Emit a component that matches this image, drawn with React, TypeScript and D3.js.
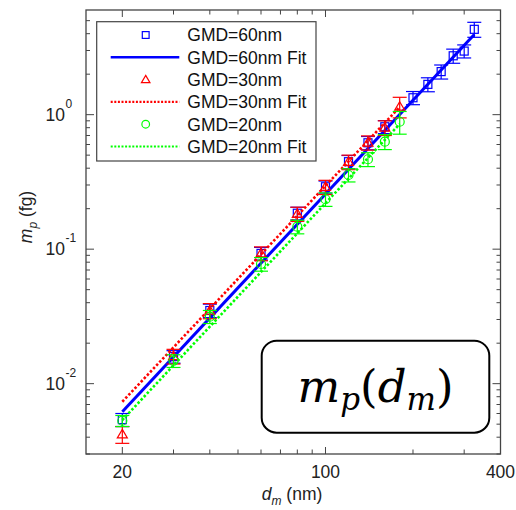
import React from "react";
import * as d3 from "d3";

// measured data, GMD = 60 nm
const dm60 = [20, 30, 40, 60, 80, 100, 120, 140, 160, 200, 225, 250, 275, 300, 325];
const mp60 = [0.0054, 0.0159, 0.035, 0.093, 0.185, 0.291, 0.447, 0.618, 0.813, 1.336, 1.68, 2.09, 2.74, 2.97, 4.31];
const err60 = [0.0006, 0.0017, 0.004, 0.01, 0.02, 0.03, 0.05, 0.07, 0.09, 0.15, 0.2, 0.25, 0.33, 0.33, 0.55];

// GMD = 30 nm
const dm30 = [20, 30, 40, 60, 80, 100, 120, 140, 160, 180];
const mp30 = [0.0042, 0.016, 0.0349, 0.093, 0.183, 0.29, 0.445, 0.62, 0.8, 1.146];
const err30 = [0.0006, 0.002, 0.0045, 0.011, 0.022, 0.035, 0.055, 0.075, 0.1, 0.2];

// GMD = 20 nm
const dm20 = [20, 30, 40, 60, 80, 100, 120, 140, 160, 180];
const mp20 = [0.0053, 0.0148, 0.0315, 0.0776, 0.147, 0.235, 0.356, 0.466, 0.63, 0.886];
const err20 = [0.0005, 0.0016, 0.0035, 0.009, 0.017, 0.027, 0.04, 0.055, 0.08, 0.17];

// fit lines (end points)
const fitD60 = [20, 325];
const fitM60 = [0.00618, 3.94];
const fitD30 = [20, 180];
const fitM30 = [0.00734, 1.14];
const fitD20 = [20, 180];
const fitM20 = [0.00537, 0.852];

const xMajor = [20, 100, 400];
const xMinor = [30, 40, 50, 60, 70, 80, 90, 200, 300];
const yMajor = [0.01, 0.1, 1];
const yMajorExp = ["-2", "-1", "0"];
const yMinor = [0.003, 0.004, 0.005, 0.006, 0.007, 0.008, 0.009, 0.02, 0.03, 0.04, 0.05, 0.06, 0.07, 0.08, 0.09,
  0.2, 0.3, 0.4, 0.5, 0.6, 0.7, 0.8, 0.9, 2, 3, 4, 5];

const legendLabels = ["GMD=60nm", "GMD=60nm Fit", "GMD=30nm", "GMD=30nm Fit", "GMD=20nm", "GMD=20nm Fit"];

const BLUE = "#0000ff";
const RED = "#ff0000";
const GREEN = "#00ff00";
const FONT = "'Liberation Sans', Arial, sans-serif";

function Marker({ kind, x, y, color, s = 1 }: { kind: string; x: number; y: number; color: string; s?: number }) {
  if (kind === "square")
    return <rect x={x - 4 * s} y={y - 4 * s} width={8 * s} height={8 * s} fill="none" stroke={color} strokeWidth={1.2} />;
  if (kind === "triangle")
    return <path d={`M${x},${y - 5 * s}L${x + 5 * s},${y + 3.5 * s}L${x - 5 * s},${y + 3.5 * s}Z`} fill="none" stroke={color} strokeWidth={1.2} />;
  return <circle cx={x} cy={y} r={4.5 * s} fill="none" stroke={color} strokeWidth={1.2} />;
}

export default function App() {
  const W = 516, H = 510;
  const left = 86, right = 500.5, top = 10, bottom = 454;
  const x = d3.scaleLog().domain([15, 400]).range([left, right]);
  const y = d3.scaleLog().domain([0.003, 6]).range([bottom, top]);
  const line = d3.line<[number, number]>().x(d => x(d[0])).y(d => y(d[1]));
  const frame = "#444";

  const series = [
    { d: dm60, m: mp60, e: err60, color: BLUE, kind: "square", fd: fitD60, fm: fitM60, dash: undefined, w: 3 },
    { d: dm30, m: mp30, e: err30, color: RED, kind: "triangle", fd: fitD30, fm: fitM30, dash: "2.5,2", w: 2.6 },
    { d: dm20, m: mp20, e: err20, color: GREEN, kind: "circle", fd: fitD20, fm: fitM20, dash: "2.5,2", w: 2.6 },
  ];

  const cap = 7;

  return (
    <div style={{ position: "absolute", left: 0, top: 0 }}>
      <svg width={W} height={H} style={{ display: "block", background: "#fff" }}>
        {/* series */}
        {series.map((s, si) => (
          <g key={si}>
            {s.d.map((dv, i) => {
              const cx = x(dv);
              const y1 = y(s.m[i] + s.e[i]);
              const y2 = y(s.m[i] - s.e[i]);
              return (
                <g key={i} stroke={s.color} strokeWidth={1.2}>
                  <line x1={cx} x2={cx} y1={y1} y2={y2} />
                  <line x1={cx - cap} x2={cx + cap} y1={y1} y2={y1} />
                  <line x1={cx - cap} x2={cx + cap} y1={y2} y2={y2} />
                  <Marker kind={s.kind} x={cx} y={y(s.m[i])} color={s.color} />
                </g>
              );
            })}
            <path d={line(s.fd.map((dv, i) => [dv, s.fm[i]] as [number, number])) || ""} fill="none"
              stroke={s.color} strokeWidth={s.w} strokeDasharray={s.dash} />
          </g>
        ))}

        {/* axes frame and ticks */}
        <rect x={left} y={top} width={right - left} height={bottom - top} fill="none" stroke={frame} strokeWidth={1.3} />
        {xMajor.map(t => (
          <g key={"xM" + t} stroke={frame} strokeWidth={1}>
            <line x1={x(t)} x2={x(t)} y1={bottom} y2={bottom - 7} />
            <line x1={x(t)} x2={x(t)} y1={top} y2={top + 7} />
          </g>
        ))}
        {xMinor.map(t => (
          <g key={"xm" + t} stroke={frame} strokeWidth={1}>
            <line x1={x(t)} x2={x(t)} y1={bottom} y2={bottom - 4.5} />
            <line x1={x(t)} x2={x(t)} y1={top} y2={top + 4.5} />
          </g>
        ))}
        {yMajor.map(t => (
          <g key={"yM" + t} stroke={frame} strokeWidth={1}>
            <line x1={left} x2={left + 8} y1={y(t)} y2={y(t)} />
            <line x1={right} x2={right - 8} y1={y(t)} y2={y(t)} />
          </g>
        ))}
        {yMinor.map(t => (
          <g key={"ym" + t} stroke={frame} strokeWidth={1}>
            <line x1={left} x2={left + 4} y1={y(t)} y2={y(t)} />
            <line x1={right} x2={right - 4} y1={y(t)} y2={y(t)} />
          </g>
        ))}

        {/* tick labels */}
        <g fontFamily={FONT} fontSize={17.5} fill="#222">
          {xMajor.map(t => (
            <text key={"xl" + t} x={x(t)} y={478} textAnchor="middle">{t}</text>
          ))}
          {yMajor.map((t, i) => (
            <g key={"yl" + t}>
              <text x={65} y={y(t) + 6} textAnchor="end">10</text>
              <text x={65.5} y={y(t) - 7} fontSize={12}>{yMajorExp[i]}</text>
            </g>
          ))}
        </g>

        {/* axis titles */}
        <text x={292} y={500} textAnchor="middle" fontFamily={FONT} fontSize={17.5} fill="#222">
          <tspan fontStyle="italic">d</tspan>
          <tspan fontSize={12} dy={5} fontStyle="italic">m</tspan>
          <tspan dy={-5}> (nm)</tspan>
        </text>
        <text transform={`translate(32,217) rotate(-90)`} textAnchor="middle" fontFamily={FONT} fontSize={17.5} fill="#222">
          <tspan fontStyle="italic">m</tspan>
          <tspan fontSize={12} dy={5} fontStyle="italic">p</tspan>
          <tspan dy={-5}> (fg)</tspan>
        </text>

        {/* legend */}
        <rect x={96.7} y={21.7} width={219.3} height={139.3} fill="#fff" stroke={frame} strokeWidth={1.2} />
        {legendLabels.map((lab, i) => {
          const cy = 35 + i * 22.3;
          const s = series[Math.floor(i / 2)];
          return (
            <g key={lab}>
              {i % 2 === 0 ? (
                <Marker kind={s.kind} x={145.7} y={cy} color={s.color} s={0.85} />
              ) : (
                <line x1={110.7} x2={179.3} y1={cy} y2={cy} stroke={s.color}
                  strokeWidth={s.dash ? 2.2 : 2.6} strokeDasharray={s.dash ? "2,1.6" : undefined} />
              )}
              <text x={187.3} y={cy + 6.3} fontFamily={FONT} fontSize={17.5} fill="#111">{lab}</text>
            </g>
          );
        })}

        {/* annotation */}
        <rect x={261.7} y={340.7} width={227.6} height={92} rx={15} ry={15} fill="#fff" stroke="#000" strokeWidth={2} />
        <text x={375.5} y={402} textAnchor="middle" fontFamily="'DejaVu Serif', 'Liberation Serif', serif" fontSize={45} fill="#000">
          <tspan fontStyle="italic">m</tspan>
          <tspan fontStyle="italic" fontSize={31} dy={8}>p</tspan>
          <tspan dy={-8}>(</tspan>
          <tspan fontStyle="italic">d</tspan>
          <tspan fontStyle="italic" fontSize={31} dy={8}>m</tspan>
          <tspan dy={-8}>)</tspan>
        </text>
      </svg>
    </div>
  );
}
